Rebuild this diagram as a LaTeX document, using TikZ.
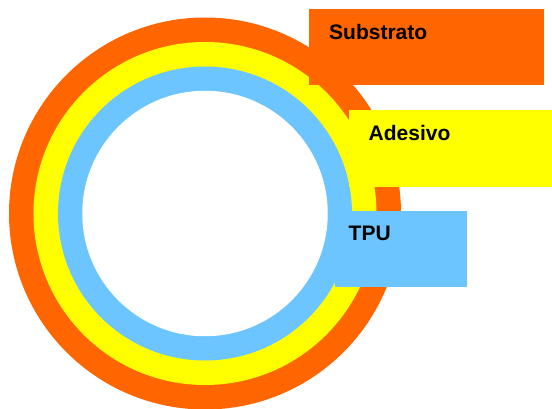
\documentclass[tikz,border=0pt]{standalone}
\usepackage{fontspec}
\setmainfont{Liberation Sans}
\definecolor{cOrange}{RGB}{255,102,0}
\definecolor{cYellow}{RGB}{255,255,0}
\definecolor{cBlue}{RGB}{108,197,255}
\begin{document}
\begin{tikzpicture}[x=1pt,y=-1pt,
  disc/.style={circle, inner sep=0pt, outer sep=0pt, draw=none},
  band/.style={rectangle, inner sep=0pt, outer sep=0pt, draw=none, anchor=north west},
  lbl/.style={anchor=base west, inner sep=0pt, font=\fontsize{21}{25}\selectfont\bfseries}]
\useasboundingbox (0,0) rectangle (552,409);
\node[disc, fill=cOrange, minimum size=392pt] (c1) at (205,213.5) {};
\node[disc, fill=cYellow, minimum size=343pt] (c2) at (205,213.5) {};
\node[disc, fill=cBlue, minimum size=294pt] (c3) at (205,213.5) {};
\node[disc, fill=white, minimum size=245.5pt] (c4) at (205,213.5) {};
\node[band, fill=cOrange, minimum width=235pt, minimum height=76.5pt] (rs) at (309,9) {};
\node[band, fill=cYellow, minimum width=203pt, minimum height=77pt] (ra) at (349,110) {};
\node[band, fill=cBlue, minimum width=132pt, minimum height=76pt] (rt) at (335,211) {};
\node[lbl] (ts) at (329,40) {Substrato};
\node[lbl] (ta) at (368.5,140.5) {Adesivo};
\node[lbl] (tt) at (348.5,240.5) {TPU};
\end{tikzpicture}
\end{document}
